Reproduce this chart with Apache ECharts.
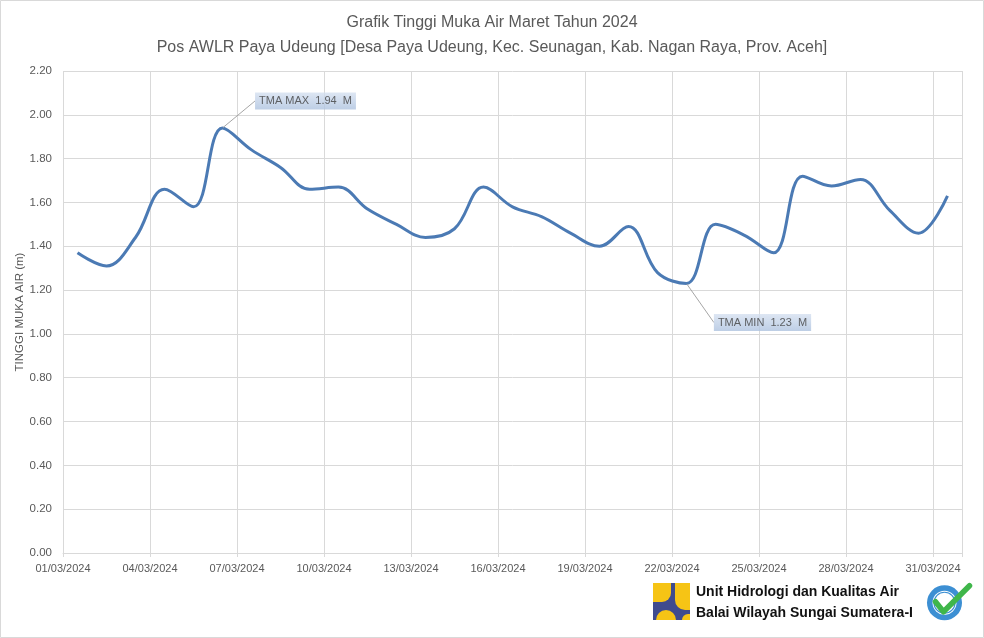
<!DOCTYPE html>
<html>
<head>
<meta charset="utf-8">
<script src="https://cdn.jsdelivr.net/npm/echarts@6/dist/echarts.min.js"></script>
<style>
html,body{margin:0;padding:0;background:#fff;}
#c{width:984px;height:638px;}
</style>
</head>
<body>
<div id="c"></div>
<script>
// ---- data ----
var tickLabels = ['01/03/2024','04/03/2024','07/03/2024','10/03/2024','13/03/2024','16/03/2024','19/03/2024','22/03/2024','25/03/2024','28/03/2024','31/03/2024'];
var levels = [1.37,1.31,1.44,1.66,1.58,1.94,1.84,1.76,1.66,1.67,1.57,1.50,1.44,1.48,1.67,1.58,1.535,1.46,1.40,1.49,1.28,1.23,1.50,1.45,1.37,1.72,1.675,1.705,1.565,1.46,1.63];
var titleLines = ['Grafik Tinggi Muka Air Maret Tahun 2024','Pos AWLR Paya Udeung [Desa Paya Udeung, Kec. Seunagan, Kab. Nagan Raya, Prov. Aceh]'];
var yAxisName = 'TINGGI MUKA AIR (m)';
var orgLines = ['Unit Hidrologi dan Kualitas Air','Balai Wilayah Sungai Sumatera-I'];

var seriesData = levels.map(function(v,i){return [i+0.5, v];});
var maxV = Math.max.apply(null, levels), minV = Math.min.apply(null, levels);
var maxI = levels.indexOf(maxV), minI = levels.indexOf(minV);
var annData = [
  {value:[maxI+0.5, maxV], name:'TMA MAX  ' + maxV.toFixed(2) + '  M'},
  {value:[minI+0.5, minV], name:'TMA MIN  ' + minV.toFixed(2) + '  M'}
];

var chart = echarts.init(document.getElementById('c'), null, {renderer:'canvas'});
var FONT = 'Liberation Sans';
var grey = '#595959';
var gridC = '#d9d9d9';

chart.setOption({
  animation:false,
  backgroundColor:'#fff',
  title:{
    text: titleLines.join('\n'),
    left:'center', top:5,
    textStyle:{fontFamily:FONT, fontSize:16, fontWeight:'normal', color:grey, lineHeight:25}
  },
  grid:{left:63, right:22, top:71, bottom:85, containLabel:false},
  xAxis:{
    type:'value', min:0, max:31, interval:3,
    axisLine:{show:true, lineStyle:{color:gridC}},
    axisTick:{show:true, length:4, lineStyle:{color:gridC}},
    splitLine:{show:true, lineStyle:{color:gridC, width:1}},
    axisLabel:{
      color:grey, fontFamily:FONT, fontSize:11, margin:10,
      formatter:function(v){ return (v % 3 === 0) ? (tickLabels[v/3] || '') : ''; }
    }
  },
  yAxis:{
    type:'value', min:0, max:2.2, interval:0.2,
    name:yAxisName, nameLocation:'middle', nameGap:37, nameRotate:90, nameMoveOverlap:false,
    nameTextStyle:{color:grey, fontFamily:FONT, fontSize:11.5},
    axisLine:{show:false}, axisTick:{show:false},
    splitLine:{show:true, lineStyle:{color:gridC, width:1}},
    axisLabel:{color:grey, fontFamily:FONT, fontSize:11.5, margin:11,
      formatter:function(v){return v.toFixed(2);}}
  },
  series:[
    {
      type:'line', data:seriesData, smooth:0.38, showSymbol:false, symbol:'none',
      lineStyle:{color:'#4b7ab4', width:3},
      z:3
    },
    {
      type:'scatter', data:annData, symbolSize:1,
      itemStyle:{color:'rgba(0,0,0,0)'},
      silent:true, z:4,
      label:{
        show:true, position:'inside',
        formatter:function(p){return p.name;},
        color:'#404040', fontFamily:FONT, fontSize:11,
        padding:[3,4,3,4],
        backgroundColor:new echarts.graphic.LinearGradient(0,0,0,1,[{offset:0,color:'#d5e0f0'},{offset:1,color:'#adc2df'}])
      },
      labelLine:{show:true, lineStyle:{color:'#a6a6a6', width:1}},
      labelLayout:function(p){
        return p.dataIndex === 0 ? {dx:83, dy:-27} : {dx:76, dy:39};
      }
    }
  ],
  graphic:[
    {type:'rect', shape:{x:0.5,y:0.5,width:983,height:637}, style:{fill:'none', stroke:'#d9d9d9', lineWidth:1}, silent:true},
    // PU logo
    {type:'group', left:653, top:583, children:[
      {type:'rect', shape:{x:0,y:0,width:37,height:37}, style:{fill:'#3f4b8e'}},
      {type:'rect', shape:{x:0,y:0,width:18,height:19,r:[0,0,9,0]}, style:{fill:'#f6c415'}},
      {type:'rect', shape:{x:22,y:0,width:15,height:27,r:[0,0,0,10]}, style:{fill:'#f6c415'}},
      {type:'rect', shape:{x:3,y:27,width:20,height:10,r:[10,10,0,0]}, style:{fill:'#f6c415'}},
      {type:'rect', shape:{x:29,y:31,width:8,height:6,r:[6,0,0,0]}, style:{fill:'#f6c415'}}
    ]},
    {type:'text', left:696, top:585, style:{text:orgLines[0], fontFamily:FONT, fontWeight:'bold', fontSize:14, fill:'#111'}},
    {type:'text', left:696, top:606, style:{text:orgLines[1], fontFamily:FONT, fontWeight:'bold', fontSize:14, fill:'#111'}},
    // ISO badge
    {type:'group', left:927, top:583, children:[
      {type:'circle', shape:{cx:18,cy:18,r:17.5}, style:{fill:'#3c8fd3'}},
      {type:'circle', shape:{cx:18,cy:18,r:12}, style:{fill:'#ffffff'}},
      {type:'circle', shape:{cx:18,cy:18,r:10.5}, style:{fill:'none', stroke:'#3c8fd3', lineWidth:1.2}},
      {type:'polyline', shape:{points:[[9,17],[17,27],[43,1]]}, style:{stroke:'#3fb64a', lineWidth:5.5, fill:'none', lineCap:'round', lineJoin:'round'}}
    ]}
  ]
});
</script>
</body>
</html>
